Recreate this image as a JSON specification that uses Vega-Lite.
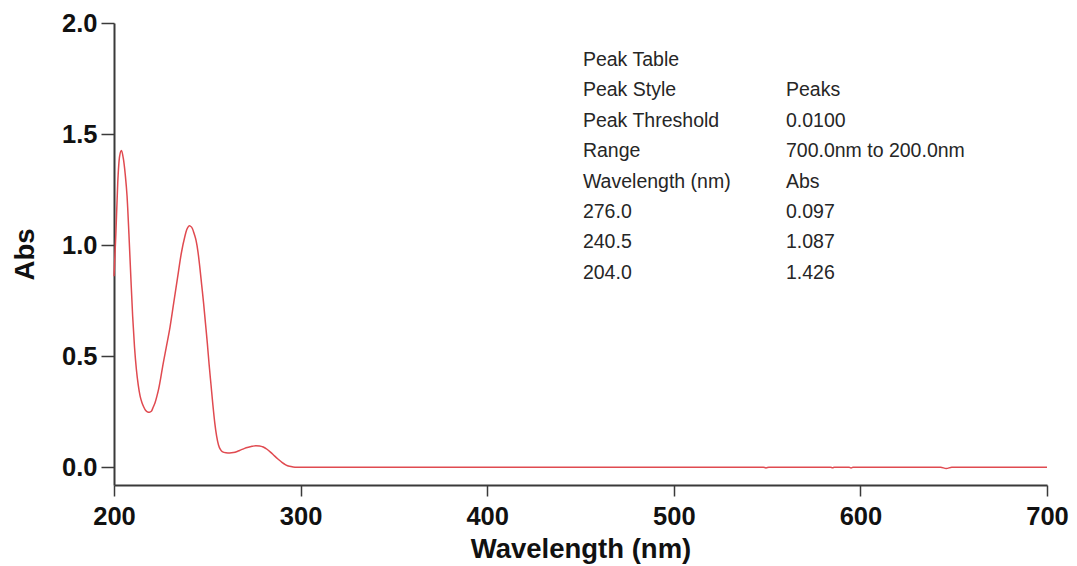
{
  "$schema": "https://vega.github.io/schema/vega-lite/v6.json",
  "autosize": "none",
  "width": 933,
  "height": 462,
  "padding": {"left": 114, "top": 23, "right": 30, "bottom": 81},
  "background": "white",
  "config": {
    "view": {"stroke": null},
    "axis": {
      "grid": false,
      "domainColor": "#3a3a3a",
      "domainWidth": 2,
      "tickColor": "#3a3a3a",
      "tickWidth": 1.5,
      "labelColor": "#111111",
      "titleColor": "#111111",
      "labelFont": "Liberation Sans",
      "titleFont": "Liberation Sans",
      "labelFontWeight": "bold",
      "titleFontWeight": "bold",
      "labelFontSize": 25.5,
      "titleFontSize": 27.5
    }
  },
  "datasets": {
    "spectrum": [
      {"wl": 200, "abs": 0.86}, {"wl": 201, "abs": 1.05}, {"wl": 202, "abs": 1.28}, {"wl": 203, "abs": 1.40},
      {"wl": 204, "abs": 1.426}, {"wl": 205, "abs": 1.39}, {"wl": 206, "abs": 1.32}, {"wl": 207, "abs": 1.22},
      {"wl": 208, "abs": 1.05}, {"wl": 209, "abs": 0.86}, {"wl": 210, "abs": 0.68}, {"wl": 211, "abs": 0.54},
      {"wl": 212, "abs": 0.44}, {"wl": 213, "abs": 0.37}, {"wl": 214, "abs": 0.32}, {"wl": 215, "abs": 0.29},
      {"wl": 216, "abs": 0.27}, {"wl": 217, "abs": 0.255}, {"wl": 218, "abs": 0.249}, {"wl": 219, "abs": 0.248},
      {"wl": 220, "abs": 0.252}, {"wl": 221, "abs": 0.27}, {"wl": 222, "abs": 0.29}, {"wl": 223, "abs": 0.32},
      {"wl": 224, "abs": 0.355}, {"wl": 225, "abs": 0.40}, {"wl": 226, "abs": 0.45}, {"wl": 228, "abs": 0.54},
      {"wl": 230, "abs": 0.63}, {"wl": 232, "abs": 0.74}, {"wl": 234, "abs": 0.85}, {"wl": 236, "abs": 0.96},
      {"wl": 238, "abs": 1.04}, {"wl": 239, "abs": 1.07}, {"wl": 240, "abs": 1.085}, {"wl": 240.5, "abs": 1.087},
      {"wl": 241, "abs": 1.085}, {"wl": 242, "abs": 1.075}, {"wl": 243, "abs": 1.05}, {"wl": 244, "abs": 1.02},
      {"wl": 245, "abs": 0.97}, {"wl": 246, "abs": 0.90}, {"wl": 247, "abs": 0.82}, {"wl": 248, "abs": 0.74},
      {"wl": 249, "abs": 0.65}, {"wl": 250, "abs": 0.56}, {"wl": 251, "abs": 0.46}, {"wl": 252, "abs": 0.37},
      {"wl": 253, "abs": 0.28}, {"wl": 254, "abs": 0.20}, {"wl": 255, "abs": 0.14}, {"wl": 256, "abs": 0.10},
      {"wl": 257, "abs": 0.08}, {"wl": 258, "abs": 0.07}, {"wl": 260, "abs": 0.065}, {"wl": 262, "abs": 0.064},
      {"wl": 264, "abs": 0.066}, {"wl": 266, "abs": 0.071}, {"wl": 268, "abs": 0.078}, {"wl": 270, "abs": 0.085},
      {"wl": 272, "abs": 0.090}, {"wl": 274, "abs": 0.094}, {"wl": 276, "abs": 0.097}, {"wl": 278, "abs": 0.096},
      {"wl": 280, "abs": 0.091}, {"wl": 282, "abs": 0.081}, {"wl": 284, "abs": 0.067}, {"wl": 286, "abs": 0.051},
      {"wl": 288, "abs": 0.036}, {"wl": 290, "abs": 0.022}, {"wl": 292, "abs": 0.011}, {"wl": 294, "abs": 0.004},
      {"wl": 296, "abs": 0.001}, {"wl": 298, "abs": 0.0}, {"wl": 320, "abs": 0.0}, {"wl": 400, "abs": 0.0},
      {"wl": 500, "abs": 0.0}, {"wl": 548, "abs": 0.0}, {"wl": 549.4, "abs": -0.003}, {"wl": 551, "abs": 0.0},
      {"wl": 584, "abs": 0.0}, {"wl": 585.1, "abs": -0.002}, {"wl": 586, "abs": 0.0}, {"wl": 594, "abs": 0.0},
      {"wl": 595, "abs": -0.003}, {"wl": 596, "abs": 0.0}, {"wl": 643, "abs": 0.0}, {"wl": 646, "abs": -0.006},
      {"wl": 649, "abs": 0.0}, {"wl": 700, "abs": 0.0}
    ],
    "table": [
      {"row": 0, "label": "Peak Table", "value": ""},
      {"row": 1, "label": "Peak Style", "value": "Peaks"},
      {"row": 2, "label": "Peak Threshold", "value": "0.0100"},
      {"row": 3, "label": "Range", "value": "700.0nm to 200.0nm"},
      {"row": 4, "label": "Wavelength (nm)", "value": "Abs"},
      {"row": 5, "label": "276.0", "value": "0.097"},
      {"row": 6, "label": "240.5", "value": "1.087"},
      {"row": 7, "label": "204.0", "value": "1.426"}
    ]
  },
  "layer": [
    {
      "data": {"name": "spectrum"},
      "mark": {"type": "line", "color": "#e04a50", "strokeWidth": 1.5, "interpolate": "monotone"},
      "encoding": {
        "x": {
          "field": "wl", "type": "quantitative",
          "scale": {"domain": [200, 700], "nice": false, "zero": false},
          "axis": {"title": "Wavelength (nm)", "values": [200, 300, 400, 500, 600, 700], "tickSize": 11, "labelPadding": 8, "titlePadding": 6, "labelFlush": false}
        },
        "y": {
          "field": "abs", "type": "quantitative",
          "scale": {"domain": [-0.08, 2.0], "nice": false, "zero": false},
          "axis": {"title": "Abs", "values": [0, 0.5, 1.0, 1.5, 2.0], "format": ".1f", "tickSize": 13, "labelPadding": 4, "titlePadding": 22, "labelFlush": false}
        }
      }
    },
    {
      "data": {"name": "table"},
      "mark": {"type": "text", "align": "left", "baseline": "middle", "font": "Liberation Sans", "fontSize": 19.5, "color": "#262626"},
      "encoding": {
        "x": {"datum": 451.3, "type": "quantitative"},
        "y": {"field": "row", "type": "quantitative", "scale": {"domain": [-1.217, 13.98], "reverse": true, "nice": false, "zero": false}, "axis": null},
        "text": {"field": "label"}
      }
    },
    {
      "data": {"name": "table"},
      "mark": {"type": "text", "align": "left", "baseline": "middle", "font": "Liberation Sans", "fontSize": 19.5, "color": "#262626"},
      "encoding": {
        "x": {"datum": 560.1, "type": "quantitative"},
        "y": {"field": "row", "type": "quantitative", "scale": {"domain": [-1.217, 13.98], "reverse": true, "nice": false, "zero": false}, "axis": null},
        "text": {"field": "value"}
      }
    }
  ],
  "resolve": {"scale": {"y": "independent"}}
}
